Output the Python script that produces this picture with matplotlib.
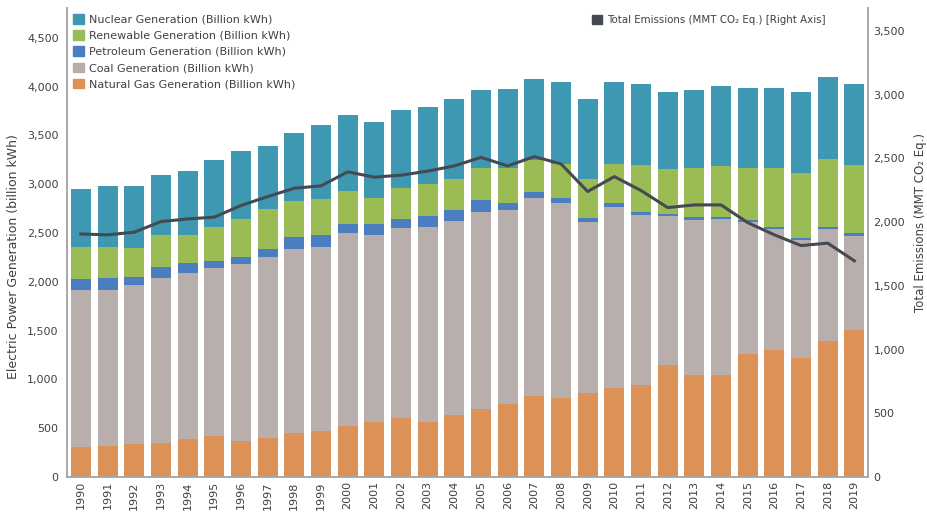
import matplotlib
matplotlib.use("Agg")
import matplotlib.pyplot as plt
from matplotlib.patches import Patch
from matplotlib.ticker import FuncFormatter
import numpy as np

years = list(range(1990, 2020))
natural_gas = [311, 318, 335, 345, 386, 420, 372, 403, 448, 475, 523, 564, 608, 567, 632,
               695, 748, 830, 807, 858, 915, 943, 1148, 1049, 1049, 1258, 1302, 1223, 1394, 1507]
coal = [1609, 1602, 1633, 1697, 1708, 1719, 1814, 1849, 1886, 1886, 1981, 1914, 1948, 1993, 1989,
        2023, 1992, 2026, 2002, 1753, 1849, 1743, 1524, 1586, 1593, 1356, 1243, 1206, 1148, 964]
petroleum = [110, 117, 85, 107, 96, 72, 69, 85, 123, 117, 92, 113, 89, 116, 119,
             119, 72, 62, 51, 47, 44, 24, 21, 24, 21, 21, 21, 24, 24, 24]
renewable = [328, 321, 297, 328, 290, 349, 393, 407, 369, 372, 338, 267, 311, 328, 318,
             328, 353, 331, 349, 397, 400, 489, 464, 506, 519, 530, 599, 660, 694, 704]
nuclear = [595, 628, 636, 618, 656, 687, 691, 649, 700, 759, 776, 782, 807, 789, 817,
           805, 810, 827, 837, 820, 837, 823, 792, 803, 820, 823, 823, 830, 833, 830]
emissions = [1907, 1900, 1921, 2004, 2025, 2039, 2130, 2200, 2266, 2284, 2394, 2353, 2368, 2400, 2441,
             2508, 2441, 2514, 2457, 2240, 2357, 2248, 2114, 2135, 2135, 1996, 1900, 1816, 1835, 1696]

c_gas = "#DC9257"
c_coal = "#B8AFAC"
c_pet = "#4A7EC0"
c_ren = "#9BBB55"
c_nuc = "#3E98B2"
c_line = "#454A52"
c_text = "#404040"
c_spine = "#A8A8A8"

plt.rcParams['font.family'] = ['DejaVu Sans']

fig = plt.figure(figsize=(9.28, 5.12), dpi=100)
ax = fig.add_axes([67/928, 1-477/512, (868-67)/928, (477-8)/512])
ax2 = ax.twinx()

x = np.arange(len(years))
w = 0.75
gas = np.array(natural_gas)
co = np.array(coal)
pe = np.array(petroleum)
re = np.array(renewable)
nu = np.array(nuclear)
ax.bar(x, gas, w, color=c_gas, zorder=2)
ax.bar(x, co, w, bottom=gas, color=c_coal, zorder=2)
ax.bar(x, pe, w, bottom=gas+co, color=c_pet, zorder=2)
ax.bar(x, re, w, bottom=gas+co+pe, color=c_ren, zorder=2)
ax.bar(x, nu, w, bottom=gas+co+pe+re, color=c_nuc, zorder=2)

ax2.plot(x, emissions, color=c_line, lw=2.2, zorder=5)
ax.set_zorder(1)
ax2.set_zorder(2)
ax.patch.set_visible(False)

ax.set_xlim(-0.52, len(years) - 0.49)
ax.set_ylim(0, 4805)
ax2.set_ylim(0, 3680)
ax.set_yticks(range(0, 4501, 500))
ax2.set_yticks(range(0, 3501, 500))
fmt = FuncFormatter(lambda v, p: f"{int(v):,}")
ax.yaxis.set_major_formatter(fmt)
ax2.yaxis.set_major_formatter(fmt)
ax.set_xticks(x)
ax.set_xticklabels([str(y) for y in years], rotation=90)

for a in (ax, ax2):
    a.tick_params(axis='both', length=0, labelsize=8, labelcolor=c_text, pad=5)
    a.spines['top'].set_visible(False)
    for s in ('left', 'right', 'bottom'):
        a.spines[s].set_color(c_spine)
        a.spines[s].set_linewidth(1.2)
ax.tick_params(axis='x', pad=3)
ax.tick_params(axis='y', pad=6)
ax2.tick_params(axis='y', pad=4)

ax.set_ylabel("Electric Power Generation (billion kWh)", fontsize=9, color=c_text)
ax.yaxis.set_label_coords((20-67)/801, (477-257)/469)
ax2.set_ylabel("Total Emissions (MMT CO\u2082 Eq.)", fontsize=8.5, color=c_text)
ax2.yaxis.set_label_coords((914-67)/801, (477-222)/469)

handles = [Patch(color=c_nuc), Patch(color=c_ren), Patch(color=c_pet), Patch(color=c_coal), Patch(color=c_gas)]
labels = ["Nuclear Generation (Billion kWh)", "Renewable Generation (Billion kWh)",
          "Petroleum Generation (Billion kWh)", "Coal Generation (Billion kWh)",
          "Natural Gas Generation (Billion kWh)"]
ax.legend(handles, labels, loc='upper left', bbox_to_anchor=(73/928, 1-14/512),
          bbox_transform=fig.transFigure, frameon=False, fontsize=8,
          handlelength=0.95, handleheight=0.95, handletextpad=0.5,
          labelspacing=0.5, borderaxespad=0, borderpad=0, labelcolor=c_text)
ax2.legend([Patch(color=c_line)], ["Total Emissions (MMT CO\u2082 Eq.) [Right Axis]"],
           loc='upper left', bbox_to_anchor=(592/928, 1-15/512),
           bbox_transform=fig.transFigure, frameon=False, fontsize=7.4,
           handlelength=1.0, handleheight=1.0, handletextpad=0.5,
           borderaxespad=0, borderpad=0, labelcolor=c_text)

fig.savefig("out.png", dpi=100)
